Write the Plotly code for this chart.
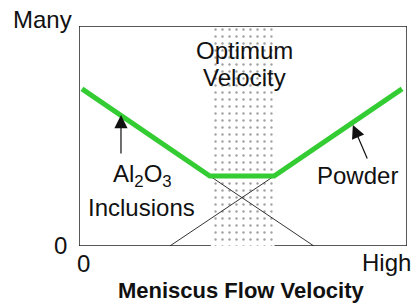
import plotly.graph_objects as go

# Data (x: 0..10 flow velocity, y: 0..10 amount)
total_x = [0.09, 3.99, 5.95, 9.85]
total_y = [7.14, 3.18, 3.18, 7.14]
al2o3_x = [3.99, 7.16]
al2o3_y = [3.18, 0.0]
powder_x = [2.77, 5.95]
powder_y = [0.0, 3.18]
optimum_range = [4.12, 5.91]
axis_range = [0, 10]
x_tick_labels = ["0", "High"]
y_tick_labels = ["0", "Many"]

FONT = "Liberation Sans, Arial, sans-serif"
INK = "#222222"

fig = go.Figure()

# Optimum velocity dotted band
fig.add_trace(go.Scatter(
    x=[optimum_range[0], optimum_range[1], optimum_range[1], optimum_range[0], optimum_range[0]],
    y=[axis_range[0], axis_range[0], axis_range[1], axis_range[1], axis_range[0]],
    fill="toself", mode="none",
    fillcolor="white",
    fillpattern=dict(shape=".", size=7, solidity=0.1, fgcolor="#444444", bgcolor="white"),
    hoverinfo="skip", showlegend=False,
))

# thin component lines
fig.add_trace(go.Scatter(x=al2o3_x, y=al2o3_y, mode="lines",
                         line=dict(color="#333333", width=1), showlegend=False))
fig.add_trace(go.Scatter(x=powder_x, y=powder_y, mode="lines",
                         line=dict(color="#333333", width=1), showlegend=False))

# total (green) line
fig.add_trace(go.Scatter(x=total_x, y=total_y, mode="lines",
                         line=dict(color="#33cc33", width=5), showlegend=False))

# frame
frame = dict(color=INK, width=1.5)
shapes = [
    dict(type="line", xref="x", yref="y", x0=0, x1=0, y0=0, y1=10, line=frame),
    dict(type="line", xref="x", yref="y", x0=0, x1=10, y0=10, y1=10, line=frame),
    dict(type="line", xref="x", yref="y", x0=10, x1=10, y0=0, y1=10, line=frame),
    dict(type="line", xref="x", yref="y", x0=0, x1=optimum_range[0] - 0.1, y0=0, y1=0, line=frame),
    dict(type="line", xref="x", yref="y", x0=optimum_range[1] + 0.05, x1=10, y0=0, y1=0, line=frame),
]

tf = dict(family=FONT, size=24, color="#111111")
# labels positioned in pixel coordinates of the figure (converted below)
annotations = [
    dict(text="Optimum", x=244, y=50, showarrow=False, font=tf),
    dict(text="Velocity", x=244, y=77, showarrow=False, font=tf),
    dict(text="Al<sub>2</sub>O<sub>3</sub>", x=142, y=175, showarrow=False, font=tf),
    dict(text="Inclusions", x=141, y=207, showarrow=False, font=tf),
    dict(text="Powder", x=357, y=175, showarrow=False, font=tf),
    dict(text=y_tick_labels[1], x=42, y=19, showarrow=False, font=tf),
    dict(text=y_tick_labels[0], x=60, y=245, showarrow=False, font=tf),
    dict(text=x_tick_labels[0], x=83, y=263, showarrow=False, font=tf),
    dict(text=x_tick_labels[1], x=386, y=262, showarrow=False, font=tf),
    dict(text="<b>Meniscus Flow Velocity</b>", x=241, y=290,
         showarrow=False, font=dict(family=FONT, size=22, color="#111111")),
]

W, H = 417, 306
ml, mr, mt, mb = 79, 10, 26, 60
pw, ph = W - ml - mr, H - mt - mb
for a in annotations:
    a["xref"] = "paper"
    a["yref"] = "paper"
    a["x"] = (a["x"] - ml) / pw
    a["y"] = (H - mb - a["y"]) / ph
    a["xanchor"] = "center"
    a["yanchor"] = "middle"

# arrows (data coordinates)
annotations += [
    dict(text="", x=1.28, y=5.95, xref="x", yref="y", ax=0, ay=40,
         showarrow=True, arrowhead=2, arrowsize=2.2, arrowwidth=1.2, arrowcolor="#111111", standoff=0),
    dict(text="", x=8.35, y=5.5, xref="x", yref="y", ax=15, ay=35,
         showarrow=True, arrowhead=2, arrowsize=2.2, arrowwidth=1.2, arrowcolor="#111111", standoff=0),
]

fig.update_layout(
    width=W, height=H,
    margin=dict(l=ml, r=mr, t=mt, b=mb),
    paper_bgcolor="white", plot_bgcolor="white",
    xaxis=dict(range=axis_range, visible=False, fixedrange=True),
    yaxis=dict(range=axis_range, visible=False, fixedrange=True),
    shapes=shapes, annotations=annotations,
    showlegend=False,
)

fig.write_html("out.html", config={"displayModeBar": False},
               post_script="document.body.style.margin='0';document.body.style.overflow='hidden';")
